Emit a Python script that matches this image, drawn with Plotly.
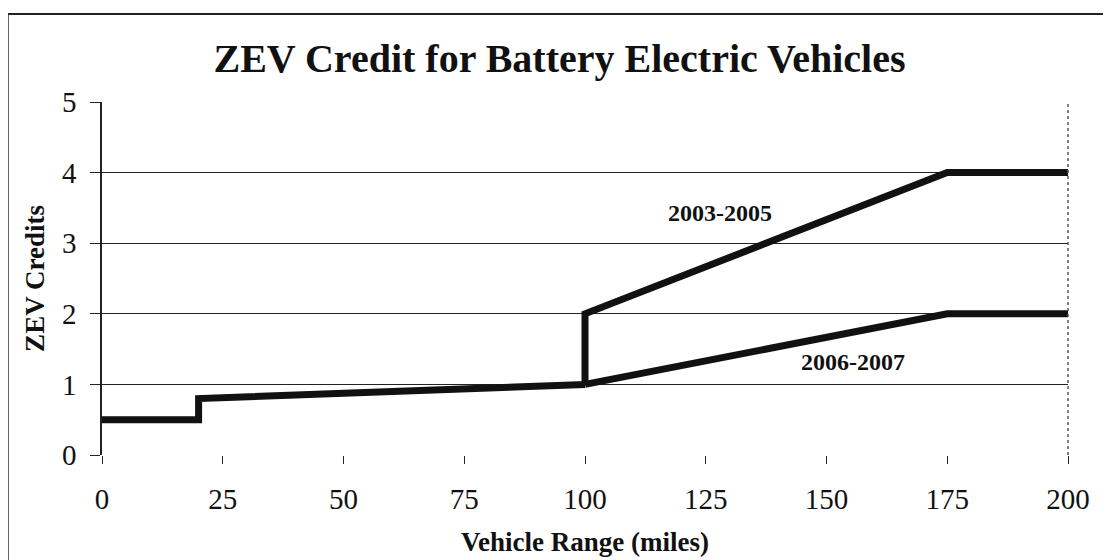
import plotly.graph_objects as go

# Data
base_range = [0, 20, 20, 100]
base_credits = [0.5, 0.5, 0.8, 1.0]
range_2003_2005 = [100, 100, 175, 200]
credits_2003_2005 = [1.0, 2.0, 4.0, 4.0]
range_2006_2007 = [100, 175, 200]
credits_2006_2007 = [1.0, 2.0, 2.0]
x_ticks = [0, 25, 50, 75, 100, 125, 150, 175, 200]
y_ticks = [0, 1, 2, 3, 4, 5]
label_2003 = ("2003-2005", 128, 3.43)
label_2006 = ("2006-2007", 155.5, 1.32)

FONT = "Liberation Serif"
fig = go.Figure()
for xs, ys in [(base_range, base_credits), (range_2003_2005, credits_2003_2005),
               (range_2006_2007, credits_2006_2007)]:
    fig.add_trace(go.Scatter(x=xs, y=ys, mode="lines",
                             line=dict(color="#111111", width=7),
                             showlegend=False, hoverinfo="skip"))

for text, x, y in [label_2003, label_2006]:
    fig.add_annotation(x=x, y=y, text=f"<b>{text}</b>", showarrow=False,
                       font=dict(family=FONT, size=24, color="#111"))

# right border dotted
fig.add_shape(type="line", xref="x domain", yref="y domain", x0=1, x1=1, y0=0, y1=1,
              line=dict(color="#555", width=1.5, dash="dot"))
# outer frame (top and left)
fig.add_shape(type="line", xref="paper", yref="paper", x0=-0.0973, x1=1.05, y0=1.249, y1=1.249,
              line=dict(color="#222", width=2))
fig.add_shape(type="line", xref="paper", yref="paper", x0=-0.0973, x1=-0.0973, y0=1.249, y1=-0.4,
              line=dict(color="#333", width=1.5))

fig.update_layout(
    width=1103, height=552,
    margin=dict(l=94, r=43, t=94, b=105),
    paper_bgcolor="white", plot_bgcolor="white",
    title=dict(text="<b>ZEV Credit for Battery Electric Vehicles</b>", x=0.5, xanchor="center",
               y=0.91, yanchor="middle", yref="container",
               font=dict(family=FONT, size=40, color="#111")),
    font=dict(family=FONT, color="#111"),
)
fig.update_xaxes(range=[0, 200], tickvals=x_ticks, ticks="outside", ticklen=8, tickcolor="#222",
                 ticklabelstandoff=10, automargin=False,
                 showgrid=False, zeroline=False, showline=False,
                 tickfont=dict(family=FONT, size=29, color="#111"),
                 title=dict(text="<b>Vehicle Range (miles)</b>", font=dict(family=FONT, size=27, color="#111"),
                            standoff=18))
fig.update_yaxes(range=[0, 5], tickvals=y_ticks, ticks="outside", ticklen=10, tickcolor="#222",
                 ticklabelstandoff=8, automargin=False,
                 showgrid=True, gridcolor="#222", gridwidth=1, zeroline=False,
                 showline=True, linecolor="#222", linewidth=1.5,
                 tickfont=dict(family=FONT, size=29, color="#111"),
                 title=dict(text="<b>ZEV Credits</b>", font=dict(family=FONT, size=27, color="#111"),
                            standoff=10))

fig.write_html("out.html")
